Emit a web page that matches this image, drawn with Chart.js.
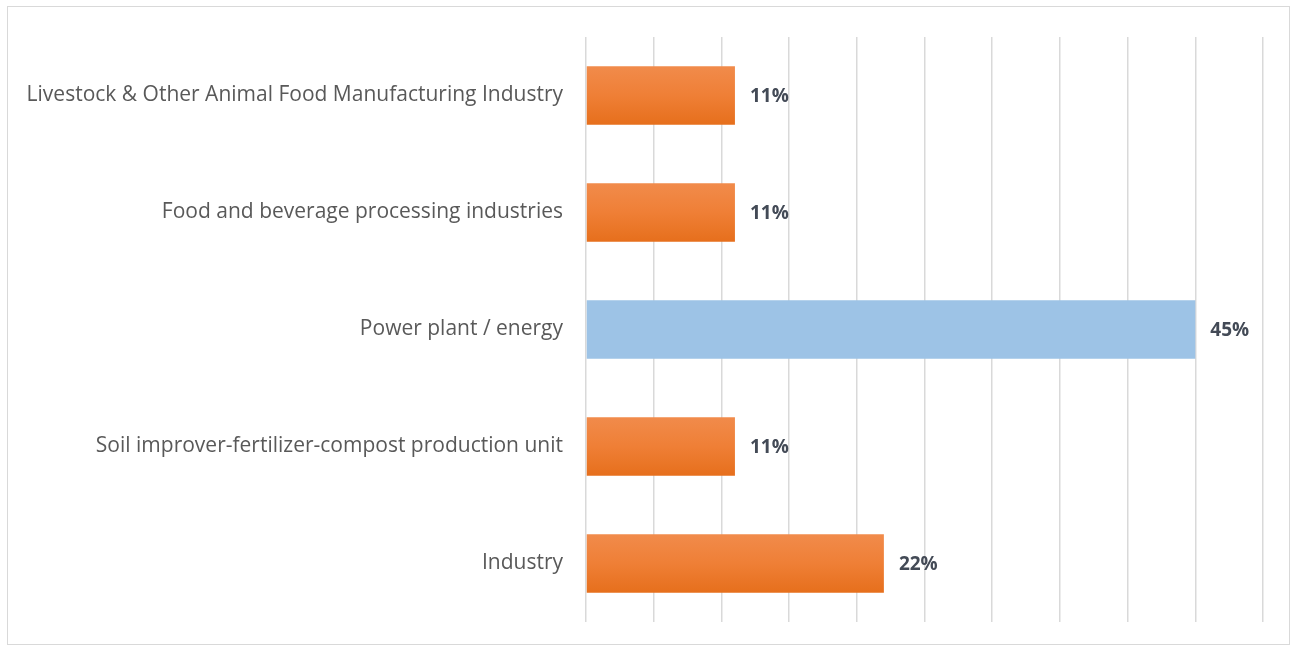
<!DOCTYPE html>
<html>
<head>
<meta charset="utf-8">
<script src="https://cdn.jsdelivr.net/npm/chart.js@4.4.1/dist/chart.umd.min.js"></script>
<style>
  html, body { margin: 0; padding: 0; background: #fff; }
  .frame {
    position: absolute; left: 7px; top: 6px; width: 1281px; height: 637px;
    border: 1px solid #d9d9d9;
  }
  .wrap { position: absolute; left: 0; top: 0; width: 1295px; height: 649px; }
</style>
</head>
<body>
<div class="frame"></div>
<div class="wrap"><canvas id="chart" width="1295" height="649"></canvas></div>
<script>
const categories = [
  'Livestock & Other Animal Food Manufacturing Industry',
  'Food and beverage processing industries',
  'Power plant / energy',
  'Soil improver-fertilizer-compost production unit',
  'Industry'
];
const shares = [11, 11, 45, 11, 22];
const highlight = [false, false, true, false, false];

const FONT = '"Open Sans", Lato, sans-serif';
const BAR_PCT = 0.5;

// orange bars get a soft vertical gradient, computed from the category band
function barFill(context) {
  const i = context.dataIndex;
  if (highlight[i]) return '#9dc3e6';
  const chart = context.chart;
  const yScale = chart.scales.y;
  if (!chart.chartArea || !yScale) return '#ed7d31';
  const band = (yScale.bottom - yScale.top) / categories.length;
  const cy = yScale.getPixelForValue(i);
  const h = band * BAR_PCT;
  if (!isFinite(cy) || !h) return '#ed7d31';
  const g = chart.ctx.createLinearGradient(0, cy - h / 2, 0, cy + h / 2);
  g.addColorStop(0, '#f18b4b');
  g.addColorStop(0.5, '#ef7f36');
  g.addColorStop(1, '#e66f1c');
  return g;
}

// percent labels at the end of each bar
const valueLabels = {
  id: 'valueLabels',
  afterDatasetsDraw(chart) {
    const ctx = chart.ctx;
    const meta = chart.getDatasetMeta(0);
    ctx.save();
    ctx.font = 'bold 19px ' + FONT;
    ctx.fillStyle = '#434a56';
    ctx.textBaseline = 'middle';
    ctx.textAlign = 'left';
    meta.data.forEach((bar, i) => {
      ctx.fillText(shares[i] + '%', bar.x + 15, bar.y + 1);
    });
    ctx.restore();
  }
};

new Chart(document.getElementById('chart'), {
  type: 'bar',
  data: {
    labels: categories,
    datasets: [{
      data: shares,
      backgroundColor: barFill,
      borderWidth: 0,
      barPercentage: BAR_PCT,
      categoryPercentage: 1.0
    }]
  },
  options: {
    indexAxis: 'y',
    responsive: false,
    animation: false,
    layout: { padding: { top: 37, right: 32, bottom: 27, left: 0 } },
    plugins: {
      legend: { display: false },
      tooltip: { enabled: false }
    },
    scales: {
      x: {
        min: 0,
        max: 50,
        ticks: { display: false, stepSize: 5 },
        grid: { color: '#d9d9d9', lineWidth: 1.5, drawTicks: false },
        border: { display: false },
        afterFit(scale) { scale.height = 0; }
      },
      y: {
        ticks: {
          color: '#595959',
          font: { family: FONT, size: 21 },
          padding: 23
        },
        grid: { display: false, drawTicks: false },
        border: { display: false },
        // fixed label column; the tick padding must not eat into the plot height
        afterFit(scale) {
          scale.width = 586;
          scale.paddingTop = 0;
          scale.paddingBottom = 0;
        }
      }
    }
  },
  plugins: [valueLabels]
});
</script>
</body>
</html>
